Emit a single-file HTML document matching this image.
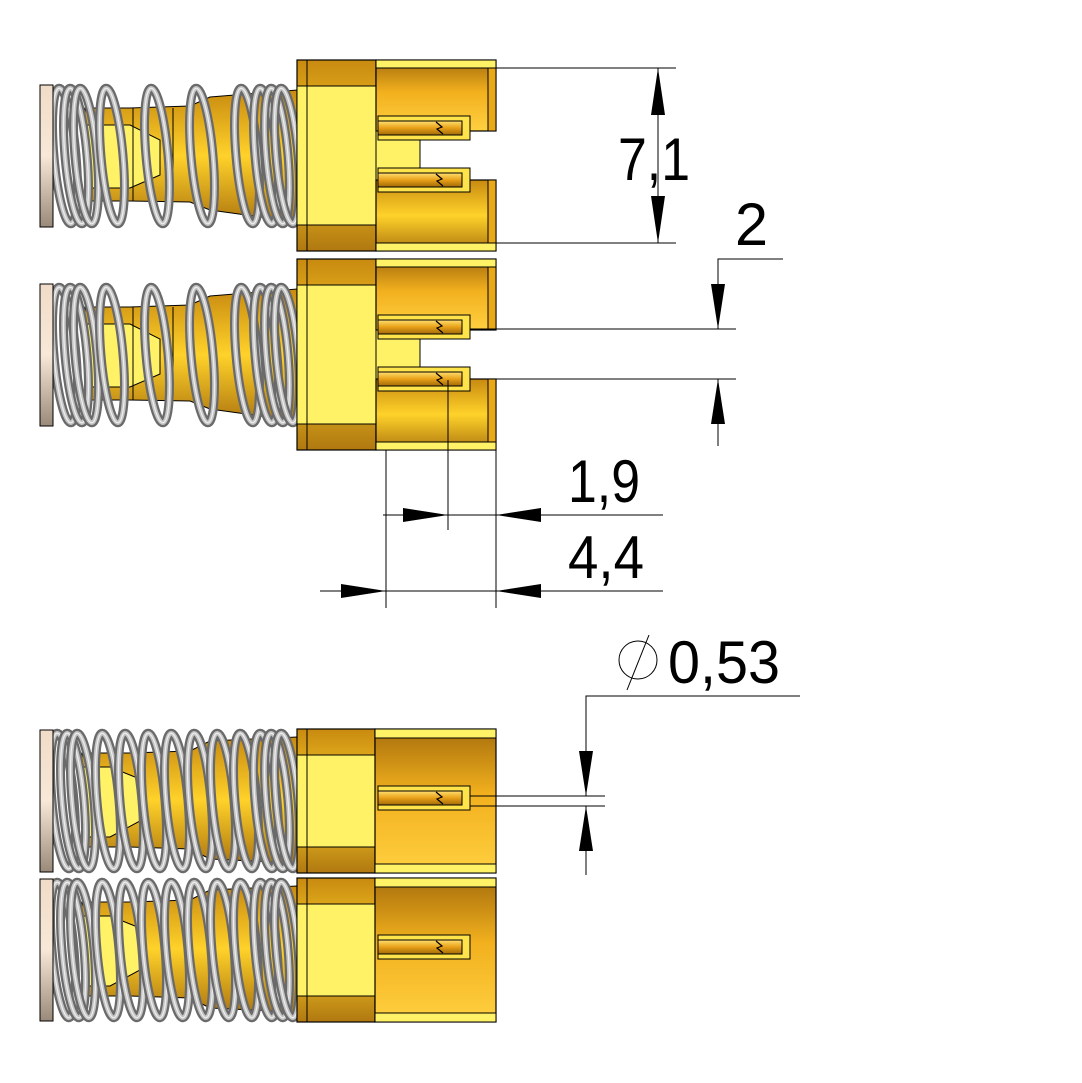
<!DOCTYPE html>
<html><head><meta charset="utf-8"><style>html,body{margin:0;padding:0;background:#fff}svg{display:block}</style></head>
<body>
<svg width="1082" height="1083" viewBox="0 0 1082 1083" xmlns="http://www.w3.org/2000/svg">
<defs>
<linearGradient id="gold" x1="0" y1="0" x2="0" y2="1">
<stop offset="0" stop-color="#a8700c"/><stop offset="0.45" stop-color="#f2b01e"/><stop offset="1" stop-color="#ffd040"/></linearGradient>
<linearGradient id="goldv" x1="0" y1="0" x2="0" y2="1">
<stop offset="0" stop-color="#c88a10"/><stop offset="0.5" stop-color="#ffd22a"/><stop offset="1" stop-color="#b07810"/></linearGradient>
<linearGradient id="cap" x1="0" y1="0" x2="0" y2="1">
<stop offset="0" stop-color="#f0dcc8"/><stop offset="0.5" stop-color="#f8e8d8"/><stop offset="1" stop-color="#9a8a7a"/></linearGradient>
<linearGradient id="pin" x1="0" y1="0" x2="0" y2="1">
<stop offset="0" stop-color="#ffe070"/><stop offset="0.5" stop-color="#e8a018"/><stop offset="1" stop-color="#a06a08"/></linearGradient>
<g id="coil"><ellipse cx="0" cy="0" rx="11" ry="68" transform="rotate(-5)" fill="none" stroke="#6a6a6a" stroke-width="9"/><ellipse cx="0" cy="0" rx="11" ry="68" transform="rotate(-5)" fill="none" stroke="#c4c4c4" stroke-width="4.5"/><ellipse cx="0" cy="0" rx="11" ry="68" transform="rotate(-5)" fill="none" stroke="#eee" stroke-width="1.2"/></g>
<g id="pinA">
<rect x="378" y="0" width="92" height="24" fill="#ffe34a" stroke="#000" stroke-width="1"/>
<rect x="378" y="5" width="84" height="14" fill="url(#pin)" stroke="#000" stroke-width="1"/>
<path d="M436,6 l6,5 -5,2 6,5" fill="none" stroke="#000" stroke-width="1.2"/>
</g>
<g id="conA">
<path d="M85,48 L130,48 L190,46 L210,37 L297,30 L297,162 L210,150 L190,142 L130,141 L85,141 Z" fill="url(#goldv)" stroke="#000" stroke-width="1"/>
<path d="M85,65 L130,65 L160,80 L160,115 L130,128 L85,128 Z" fill="#fff266" stroke="#000" stroke-width="1"/>
<line x1="133" y1="48" x2="133" y2="141" stroke="#000"/><line x1="173" y1="48" x2="173" y2="141" stroke="#000"/>
<use href="#coil" x="65" y="96"/><use href="#coil" x="76" y="96"/><use href="#coil" x="86" y="96"/>
<use href="#coil" x="112" y="96"/><use href="#coil" x="157" y="96"/><use href="#coil" x="202" y="96"/><use href="#coil" x="247" y="96"/>
<use href="#coil" x="266" y="96"/><use href="#coil" x="277" y="96"/><use href="#coil" x="287" y="96"/>
<rect x="40" y="25" width="13" height="142" fill="url(#cap)" stroke="#000" stroke-width="1"/>
<rect x="297" y="0" width="79" height="191" fill="url(#goldv)" stroke="#000" stroke-width="1.2"/>
<rect x="297" y="26" width="79" height="139" fill="#fff266" stroke="#000" stroke-width="1"/>
<line x1="307" y1="0" x2="307" y2="191" stroke="#000"/>
<rect x="376" y="0" width="120" height="71" fill="url(#gold)" stroke="#000" stroke-width="1.2"/>
<rect x="376" y="120" width="120" height="71" fill="url(#goldv)" stroke="#000" stroke-width="1.2"/>
<rect x="376" y="0" width="120" height="8" fill="#fff266" stroke="#000" stroke-width="1"/>
<rect x="376" y="183" width="120" height="8" fill="#fff266" stroke="#000" stroke-width="1"/>
<rect x="488" y="8" width="8" height="63" fill="#e8a818" stroke="#000" stroke-width="1"/>
<rect x="488" y="120" width="8" height="63" fill="#e8a818" stroke="#000" stroke-width="1"/>
<rect x="376" y="71" width="44" height="49" fill="#fff266" stroke="#000" stroke-width="1"/>
<use href="#pinA" y="56"/><use href="#pinA" y="108"/>
</g>
<g id="conB">
<path d="M82,24 L130,24 L190,22 L210,12 L297,8 L297,134 L210,130 L190,120 L130,118 L82,118 Z" fill="url(#goldv)" stroke="#000" stroke-width="1"/>
<path d="M82,38 L110,38 L140,50 L140,92 L110,108 L82,108 Z" fill="#fff266" stroke="#000" stroke-width="1"/>
<use href="#coil" x="63" y="72"/><use href="#coil" x="73" y="72"/><use href="#coil" x="83" y="72"/><use href="#coil" x="108" y="72"/><use href="#coil" x="131" y="72"/><use href="#coil" x="154" y="72"/><use href="#coil" x="177" y="72"/><use href="#coil" x="200" y="72"/><use href="#coil" x="223" y="72"/><use href="#coil" x="246" y="72"/><use href="#coil" x="266" y="72"/><use href="#coil" x="277" y="72"/><use href="#coil" x="287" y="72"/>
<rect x="40" y="1" width="13" height="142" fill="url(#cap)" stroke="#000" stroke-width="1"/>
<rect x="297" y="0" width="78" height="144" fill="url(#goldv)" stroke="#000" stroke-width="1.2"/>
<rect x="297" y="26" width="78" height="92" fill="#fff266" stroke="#000" stroke-width="1"/>
<line x1="307" y1="0" x2="307" y2="144" stroke="#000"/>
<rect x="375" y="0" width="121" height="144" fill="url(#gold)" stroke="#000" stroke-width="1.2"/>
<rect x="375" y="0" width="121" height="9" fill="#fff266" stroke="#000" stroke-width="1"/>
<rect x="375" y="135" width="121" height="9" fill="#fff266" stroke="#000" stroke-width="1"/>
<use href="#pinA" y="57"/>
</g>
</defs>
<rect width="1082" height="1083" fill="#fff"/>
<use href="#conA" y="60"/>
<use href="#conA" y="259"/>
<use href="#conB" y="729"/>
<use href="#conB" y="878"/>
<g stroke="#000" stroke-width="1" fill="none">
<line x1="496" y1="68" x2="676" y2="68"/><line x1="496" y1="243" x2="676" y2="243"/>
<line x1="658" y1="68" x2="658" y2="243"/>
<line x1="470" y1="329" x2="736" y2="329"/><line x1="470" y1="379" x2="736" y2="379"/>
<polyline points="783,259 718,259 718,329"/><line x1="718" y1="379" x2="718" y2="446"/>
<line x1="386" y1="450" x2="386" y2="608"/><line x1="448" y1="380" x2="448" y2="530"/><line x1="496" y1="450" x2="496" y2="608"/>
<line x1="383" y1="515" x2="663" y2="515"/><line x1="320" y1="591" x2="663" y2="591"/>
<polyline points="800,696 586,696 586,796"/><line x1="586" y1="806" x2="586" y2="875"/>
<line x1="470" y1="796" x2="605" y2="796"/><line x1="470" y1="806" x2="605" y2="806"/>
<circle cx="638" cy="660" r="19"/><line x1="627" y1="690" x2="649" y2="635"/>
</g>
<g fill="#000">
<polygon points="658,68 651,115 665,115"/><polygon points="658,243 651,196 665,196"/>
<polygon points="718,329 711,284 725,284"/><polygon points="718,379 711,424 725,424"/>
<polygon points="448,515 403,508 403,522"/><polygon points="496,515 541,508 541,522"/>
<polygon points="386,591 341,584 341,598"/><polygon points="496,591 541,584 541,598"/>
<polygon points="586,796 579,751 593,751"/><polygon points="586,806 579,851 593,851"/>
</g>
<g font-family="Liberation Sans, sans-serif" font-size="60" fill="#000">
<text x="618" y="180" textLength="72" lengthAdjust="spacingAndGlyphs">7,1</text>
<text x="735" y="245" textLength="33" lengthAdjust="spacingAndGlyphs">2</text>
<text x="568" y="502" textLength="72" lengthAdjust="spacingAndGlyphs">1,9</text>
<text x="568" y="578" textLength="76" lengthAdjust="spacingAndGlyphs">4,4</text>
<text x="668" y="683" textLength="112" lengthAdjust="spacingAndGlyphs">0,53</text>
</g>
</svg>
</body></html>
